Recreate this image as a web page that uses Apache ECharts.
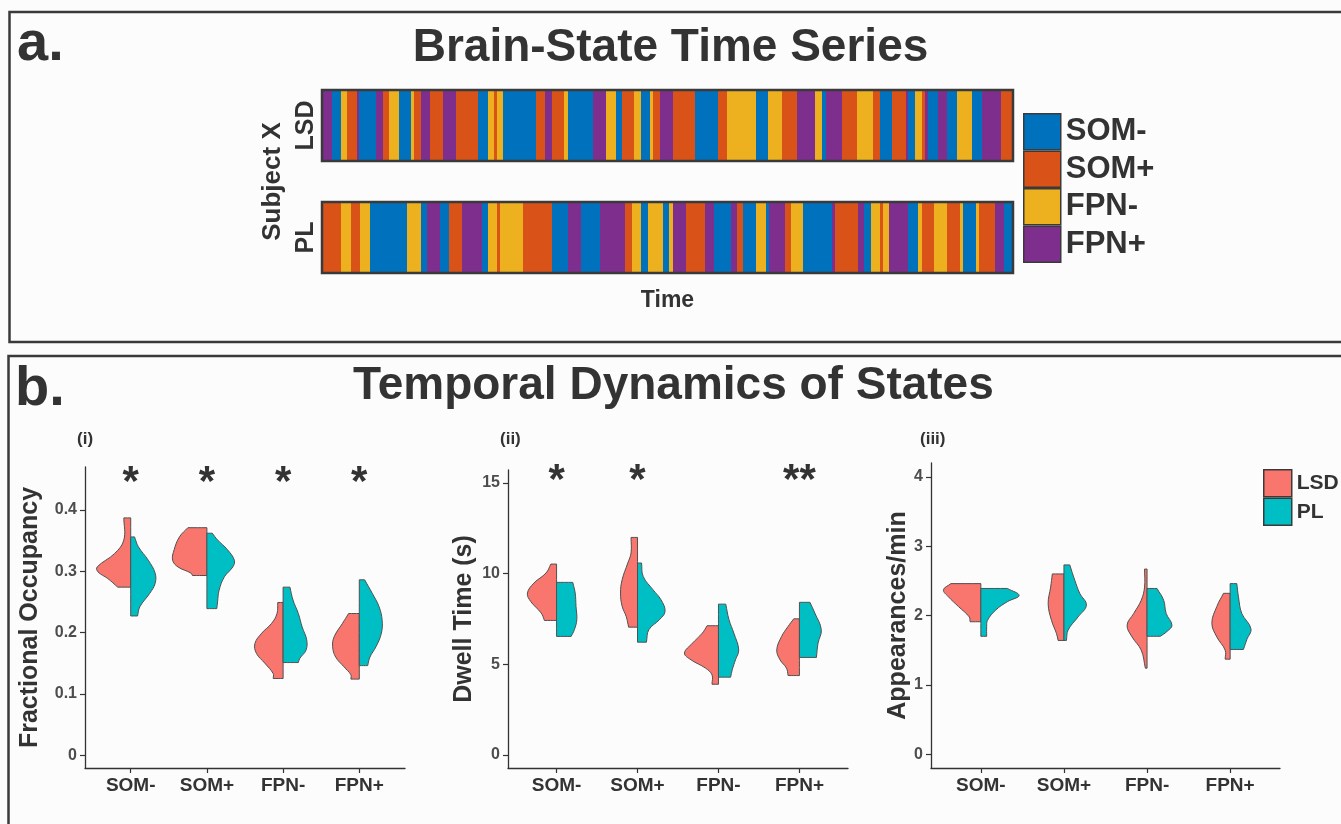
<!DOCTYPE html>
<html>
<head>
<meta charset="utf-8">
<title>Brain-State Time Series</title>
<script src="https://cdn.jsdelivr.net/npm/echarts@6.0.0/dist/echarts.min.js"></script>
<style>
  html, body { margin: 0; padding: 0; background: #fcfcfd; }
  #chart { width: 1341px; height: 824px; }
</style>
</head>
<body>
<div id="chart"></div>
<script>
// states: 0 SOM-, 1 SOM+, 2 FPN-, 3 FPN+
var stateNames = ['SOM-', 'SOM+', 'FPN-', 'FPN+'];
var stateColors = ['#0072BD', '#D95319', '#EDB120', '#7E2F8E'];
var rowNames = ['PL', 'LSD'];

// brain-state sequence of subject X (state, duration in time steps)
var lsdStates = [3,0,2,1,3,0,3,1,2,0, 2,1,3,1,3,1,0,2,1,2, 0,1,3,1,2,0,3,2,0,1, 2,0,2,1,3,1,0,1,2,0, 2,1,3,2,0,3,1,2,1,0, 1,3,0,2,1,3,0,3,0,2, 0,3,1];
var lsdDur = [10,9,6,10,2,17,7,6,10,12, 3,7,9,13,13,22,10,6,3,6, 33,9,7,12,4,25,13,10,6,12, 7,9,3,7,13,22,23,9,29,12, 14,15,18,7,4,16,15,16,7,12, 14,2,7,7,3,3,10,9,10,15, 10,19,12];
var plStates = [1,2,1,2,0,2,0,3,0,1, 3,0,2,1,2,1,0,3,0,3, 1,2,0,2,0,2,3,1,3,0, 3,1,0,2,0,3,1,2,0,3, 1,3,0,2,1,2,3,0,2,1, 2,1,2,0,2,1,3,0];
var plDur = [19,10,9,10,37,14,6,13,9,13, 20,6,9,3,23,29,16,13,19,25, 7,9,7,15,6,4,13,19,9,17, 6,6,13,10,3,16,6,12,29,3, 23,6,7,9,3,6,19,10,4,12, 13,13,3,13,3,16,9,9];

// half violins: per state, [value, half width] from top to bottom
var foLSD = [
  [[0.387,0.09],[0.351,0.09],[0.329,0.21],[0.307,0.44],[0.299,0.43],[0.288,0.30],[0.274,0.17]],
  [[0.371,0.25],[0.356,0.36],[0.335,0.43],[0.318,0.45],[0.307,0.38],[0.297,0.21],[0.293,0.19]],
  [[0.249,0.07],[0.231,0.08],[0.215,0.15],[0.199,0.28],[0.182,0.37],[0.166,0.35],[0.150,0.24],[0.133,0.13],[0.125,0.13]],
  [[0.231,0.14],[0.215,0.22],[0.193,0.33],[0.177,0.35],[0.160,0.31],[0.144,0.20],[0.131,0.11],[0.124,0.11]]
];
var foPL = [
  [[0.356,0.05],[0.340,0.10],[0.318,0.23],[0.297,0.32],[0.280,0.32],[0.264,0.25],[0.242,0.12],[0.227,0.09]],
  [[0.362,0.07],[0.351,0.14],[0.335,0.27],[0.318,0.36],[0.307,0.34],[0.291,0.23],[0.269,0.16],[0.250,0.14],[0.239,0.13]],
  [[0.274,0.09],[0.253,0.13],[0.231,0.20],[0.209,0.25],[0.188,0.31],[0.171,0.30],[0.158,0.22],[0.151,0.20]],
  [[0.286,0.07],[0.264,0.17],[0.242,0.26],[0.220,0.30],[0.199,0.29],[0.177,0.22],[0.160,0.14],[0.146,0.11]]
];
var dtLSD = [
  [[10.53,0.07],[10.04,0.13],[9.48,0.28],[8.93,0.36],[8.47,0.32],[7.83,0.19],[7.42,0.15]],
  [[12.0,0.08],[11.14,0.08],[10.59,0.12],[9.67,0.19],[8.93,0.21],[8.20,0.19],[7.64,0.14],[7.05,0.11]],
  [[7.13,0.14],[6.72,0.20],[6.17,0.32],[5.62,0.42],[5.25,0.34],[4.79,0.16],[4.42,0.08],[3.90,0.08]],
  [[7.51,0.07],[7.09,0.14],[6.54,0.22],[5.80,0.28],[5.25,0.24],[4.79,0.16],[4.38,0.14]]
];
var dtPL = [
  [[9.52,0.20],[8.93,0.23],[8.20,0.24],[7.46,0.25],[6.91,0.22],[6.54,0.18]],
  [[10.59,0.05],[9.85,0.07],[9.12,0.19],[8.56,0.29],[7.92,0.34],[7.46,0.27],[6.91,0.14],[6.22,0.11]],
  [[8.32,0.09],[7.46,0.13],[6.72,0.19],[5.80,0.25],[5.25,0.21],[4.70,0.17],[4.29,0.15]],
  [[8.42,0.13],[7.83,0.19],[6.91,0.27],[6.17,0.23],[5.38,0.21]]
];
var apLSD = [
  [[2.46,0.36],[2.37,0.45],[2.27,0.39],[2.13,0.27],[1.98,0.14],[1.91,0.13]],
  [[2.60,0.14],[2.41,0.16],[2.17,0.19],[1.93,0.15],[1.74,0.09],[1.64,0.07]],
  [[2.67,0.03],[2.41,0.03],[2.22,0.07],[2.03,0.16],[1.86,0.24],[1.69,0.18],[1.50,0.07],[1.24,0.02]],
  [[2.32,0.08],[2.13,0.16],[1.89,0.22],[1.69,0.16],[1.50,0.06],[1.37,0.06]]
];
var apPL = [
  [[2.39,0.32],[2.29,0.46],[2.20,0.32],[2.08,0.18],[1.93,0.08],[1.84,0.07],[1.70,0.07]],
  [[2.73,0.07],[2.51,0.13],[2.32,0.19],[2.15,0.27],[1.98,0.17],[1.79,0.05],[1.64,0.03]],
  [[2.39,0.12],[2.22,0.20],[2.03,0.23],[1.86,0.30],[1.77,0.24],[1.70,0.16]],
  [[2.46,0.08],[2.27,0.10],[2.03,0.14],[1.81,0.25],[1.65,0.20],[1.51,0.16]]
];

// significance marks and where they sit
var foSig = ['*', '*', '*', '*'];
var dtSig = ['*', '*', '', '**'];
var apSig = ['', '', '', ''];
var sigY = [0.455, 15.45, 3.9];

var yTicks = [[0, 0.1, 0.2, 0.3, 0.4], [0, 5, 10, 15], [0, 1, 2, 3, 4]];
var yRange = [[-0.021, 0.47], [-0.72, 15.72], [-0.2, 4.2]];
var yNames = ['Fractional Occupancy', 'Dwell Time (s)', 'Appearances/min'];

var FONT = '"Liberation Sans", Arial, Helvetica, sans-serif';
var TXT = '#333333';
var lsdColor = '#F8766D';
var plColor = '#00BFC4';

var myChart = echarts.init(document.getElementById('chart'));

// segments per state from the sequences
var segs = [[], [], [], []];
function addRow(states, durs, row) {
  var t = 0;
  for (var i = 0; i < states.length; i++) {
    segs[states[i]].push([row, t, t + durs[i]]);
    t += durs[i];
  }
  return t;
}
var totalLSD = addRow(lsdStates, lsdDur, 1);
var totalPL = addRow(plStates, plDur, 0);
var total = Math.max(totalLSD, totalPL);

function renderSeg(params, api) {
  var p0 = api.coord([api.value(1), api.value(0)]);
  var p1 = api.coord([api.value(2), api.value(0)]);
  var h = api.size([0, 1])[1] * 0.634;
  return {
    type: 'rect',
    shape: { x: p0[0], y: p0[1] - h / 2, width: p1[0] - p0[0], height: h },
    style: { fill: api.visual('color') }
  };
}

function renderFrame(params, api) {
  var p0 = api.coord([api.value(1), api.value(0)]);
  var p1 = api.coord([api.value(2), api.value(0)]);
  var h = api.size([0, 1])[1] * 0.634;
  return {
    type: 'rect',
    shape: { x: p0[0], y: p0[1] - h / 2, width: p1[0] - p0[0], height: h },
    style: { fill: 'none', stroke: '#3a3a3a', lineWidth: 2.5 }
  };
}

function violinRenderer(shapes, side) {
  return function (params, api) {
    var prof = shapes[params.dataIndex];
    var cat = api.value(0);
    var unit = api.size([1, 0])[0];
    var pts = [];
    function add(p, n) { for (var k = 0; k < n; k++) pts.push(p); }
    for (var i = 0; i < prof.length; i++) {
      var c = api.coord([cat, prof[i][0]]);
      add([c[0] + side * prof[i][1] * unit, c[1]], (i === 0 || i === prof.length - 1) ? 3 : 1);
    }
    add(api.coord([cat, prof[prof.length - 1][0]]), 3);
    add(api.coord([cat, prof[0][0]]), 3);
    return {
      type: 'polygon',
      shape: { points: pts, smooth: 0.4 },
      style: { fill: api.visual('color'), stroke: '#505050', lineWidth: 1 }
    };
  };
}

function sigRenderer(labels) {
  return function (params, api) {
    var txt = labels[params.dataIndex];
    if (!txt) return null;
    var c = api.coord([api.value(0), api.value(1)]);
    return {
      type: 'text',
      style: {
        text: txt, x: c[0], y: c[1] + 7,
        font: 'bold 42px ' + FONT,
        align: 'center', verticalAlign: 'middle', fill: TXT
      }
    };
  };
}

var grids = [
  { left: 322, right: 328, top: 69.5, bottom: 530.5 },
  { left: 85, right: 936, top: 467, bottom: 56 },
  { left: 508, right: 493, top: 470, bottom: 56 },
  { left: 931, right: 61, top: 463, bottom: 56 }
];
grids.forEach(function (g) { g.outerBoundsMode = 'none'; });

var xAxes = [{
  gridIndex: 0, type: 'value', min: 0, max: total,
  axisLine: { show: false }, axisTick: { show: false }, axisLabel: { show: false }, splitLine: { show: false },
  name: 'Time', nameLocation: 'middle', nameGap: -4,
  nameTextStyle: { fontSize: 23, fontWeight: 'bold', color: TXT, fontFamily: FONT }
}];
var yAxes = [{
  gridIndex: 0, type: 'category', data: rowNames,
  axisLine: { show: false }, axisTick: { show: false }, splitLine: { show: false },
  axisLabel: { rotate: 90, margin: 3, fontSize: 25, fontWeight: 'bold', color: TXT, fontFamily: FONT },
  name: 'Subject X', nameLocation: 'middle', nameRotate: 90, nameGap: 31,
  nameTextStyle: { fontSize: 26, fontWeight: 'bold', color: TXT, fontFamily: FONT }
}];
var nameGaps = [42, 31, 14];
for (var m = 0; m < 3; m++) {
  xAxes.push({
    gridIndex: m + 1, type: 'value', min: 0.4, max: 4.6,
    axisLine: { show: true, onZero: false, lineStyle: { color: '#333', width: 1.3 } },
    axisTick: { show: true, customValues: [1, 2, 3, 4], length: 5, lineStyle: { color: '#333', width: 1.2 } },
    axisLabel: {
      customValues: [1, 2, 3, 4], margin: 8,
      formatter: function (v) { return stateNames[Math.round(v) - 1]; },
      fontSize: 19, fontWeight: 'bold', color: TXT, fontFamily: FONT
    },
    splitLine: { show: false }
  });
  yAxes.push({
    gridIndex: m + 1, type: 'value', min: yRange[m][0], max: yRange[m][1],
    axisLine: { show: true, onZero: false, lineStyle: { color: '#333', width: 1.3 } },
    axisTick: { show: true, customValues: yTicks[m], length: 5, lineStyle: { color: '#333', width: 1.2 } },
    axisLabel: { customValues: yTicks[m], margin: 8, fontSize: 16, fontWeight: 'bold', color: '#4d4d4d', fontFamily: FONT },
    splitLine: { show: false },
    name: yNames[m], nameLocation: 'middle', nameRotate: 90, nameGap: nameGaps[m],
    nameTextStyle: { fontSize: 25, fontWeight: 'bold', color: TXT, fontFamily: FONT }
  });
}

var series = [];
for (var s = 0; s < 4; s++) {
  series.push({
    type: 'custom', name: stateNames[s], xAxisIndex: 0, yAxisIndex: 0,
    itemStyle: { color: stateColors[s] },
    encode: { x: [1, 2], y: 0 },
    data: segs[s], renderItem: renderSeg, silent: true
  });
}
series.push({
  type: 'custom', name: 'frame', xAxisIndex: 0, yAxisIndex: 0,
  encode: { x: [1, 2], y: 0 },
  data: [[1, 0, totalLSD], [0, 0, totalPL]], renderItem: renderFrame, silent: true
});

var violinSets = [[foLSD, foPL, foSig], [dtLSD, dtPL, dtSig], [apLSD, apPL, apSig]];
violinSets.forEach(function (set, m) {
  [[set[0], 'LSD', lsdColor, -1], [set[1], 'PL', plColor, 1]].forEach(function (g) {
    series.push({
      type: 'custom', name: g[1], xAxisIndex: m + 1, yAxisIndex: m + 1,
      itemStyle: { color: g[2] },
      encode: { x: 0, y: 1 },
      data: g[0].map(function (prof, i) { return [i + 1, prof[0][0]]; }),
      renderItem: violinRenderer(g[0], g[3]), silent: true
    });
  });
  series.push({
    type: 'custom', name: 'sig' + m, xAxisIndex: m + 1, yAxisIndex: m + 1,
    encode: { x: 0, y: 1 },
    data: set[2].map(function (t, i) { return [i + 1, sigY[m]]; }),
    renderItem: sigRenderer(set[2]), silent: true
  });
});

function ttl(text, left, top, size) {
  return { text: text, left: left, top: top, padding: 0,
    textStyle: { fontSize: size, fontWeight: 'bold', color: TXT, fontFamily: FONT } };
}

myChart.setOption({
  backgroundColor: '#fcfcfd',
  animation: false,
  title: [
    ttl('a.', 17, 17, 56),
    ttl('Brain-State Time Series', 'center', 25, 46),
    ttl('b.', 15, 362, 56),
    ttl('Temporal Dynamics of States', 353, 363, 46),
    ttl('(i)', 77, 431, 17),
    ttl('(ii)', 500, 431, 17),
    ttl('(iii)', 920, 431, 17)
  ],
  graphic: [
    { type: 'rect', shape: { x: 9.5, y: 12, width: 1400, height: 330 },
      style: { fill: 'none', stroke: '#3a3a3a', lineWidth: 2.5 }, silent: true },
    { type: 'rect', shape: { x: 8.5, y: 356, width: 1400, height: 600 },
      style: { fill: 'none', stroke: '#3a3a3a', lineWidth: 2.5 }, silent: true }
  ],
  legend: [
    { data: stateNames, orient: 'vertical', left: 1023, top: 113, padding: 0,
      itemWidth: 37, itemHeight: 36, itemGap: 0, icon: 'rect', selectedMode: false,
      itemStyle: { borderColor: '#3a3a3a', borderWidth: 1.5 },
      textStyle: { fontSize: 31, fontWeight: 'bold', color: TXT, fontFamily: FONT } },
    { data: ['LSD', 'PL'], orient: 'vertical', left: 1263, top: 469, padding: 0,
      itemWidth: 28, itemHeight: 27, itemGap: 0, icon: 'rect', selectedMode: false,
      itemStyle: { borderColor: '#3a3a3a', borderWidth: 1.5 },
      textStyle: { fontSize: 21, fontWeight: 'bold', color: TXT, fontFamily: FONT } }
  ],
  grid: grids,
  xAxis: xAxes,
  yAxis: yAxes,
  series: series
});
</script>
</body>
</html>
